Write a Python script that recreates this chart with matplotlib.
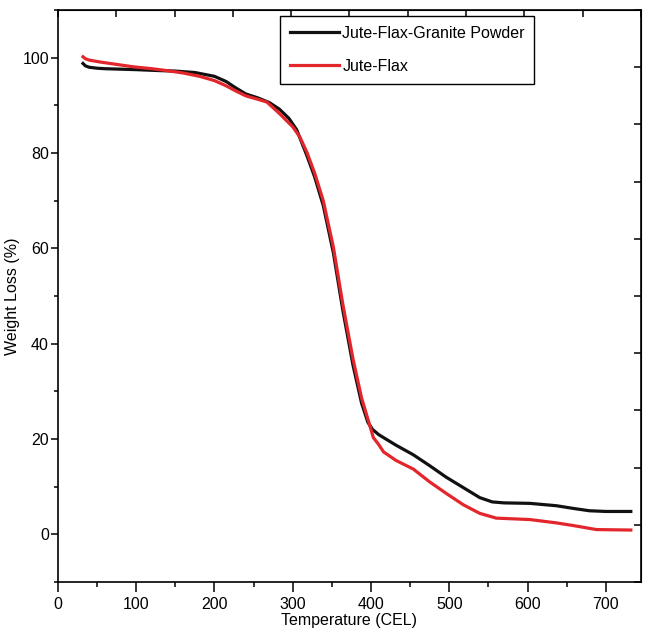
import numpy as np
import matplotlib.pyplot as plt

plt.rcParams['font.family'] = ['Liberation Sans', 'DejaVu Sans']

# TGA curves read at irregular temperatures
temp_granite = [32, 35, 40, 50, 60, 80, 100, 130, 150, 175, 200, 215, 225, 240, 255,
                270, 283, 295, 305, 318, 328, 339, 352, 364, 377, 388, 396, 402,
                410, 420, 432, 454, 475, 496, 518, 539, 555, 570, 603, 637, 660, 679,
                700, 732]
loss_granite = [98.8, 98.3, 98.0, 97.8, 97.7, 97.6, 97.5, 97.3, 97.2, 96.9, 96.1, 95.0,
                93.9, 92.4, 91.6, 90.6, 89.2, 87.3, 84.9, 79.5, 75.0, 69.0, 59.0, 47.0,
                35.5, 27.5, 23.5, 22.0, 20.9, 19.9, 18.7, 16.7, 14.4, 12.0, 9.8,
                7.7, 6.8, 6.6, 6.5, 6.0, 5.4, 4.95, 4.8, 4.8]

temp_flax = [32, 35, 40, 54, 75, 96, 120, 139, 160, 181, 200, 215, 224, 240, 255, 267,
             283, 300, 309, 318, 328, 339, 352, 364, 377, 388, 396, 403, 410, 416, 432,
             454, 475, 496, 518, 539, 560, 603, 637, 660, 688, 732]
loss_flax = [100.2, 99.8, 99.5, 99.1, 98.6, 98.1, 97.7, 97.3, 96.8, 96.1, 95.2, 94.1,
             93.3, 92.0, 91.3, 90.7, 88.3, 85.5, 83.4, 80.2, 75.8, 70.0, 60.2, 48.3,
             36.8, 28.6, 24.2, 20.3, 18.8, 17.3, 15.5, 13.7, 11.0, 8.6, 6.2, 4.4, 3.4,
             3.1, 2.4, 1.8, 1.0, 0.9]

x_max = 745
y_min, y_max = -10, 110

fig = plt.figure(figsize=(6.47, 6.30), dpi=100)
ax = fig.add_axes([0.0896, 0.0762, 0.9011, 0.9078])

ax.plot(temp_granite, loss_granite, color='#111111', lw=2.3, label='Jute-Flax-Granite Powder')
ax.plot(temp_flax, loss_flax, color='#e3262b', lw=2.3, label='Jute-Flax')

ax.set_xlim(0, x_max)
ax.set_ylim(y_min, y_max)
ax.set_xticks(range(0, 701, 100))
ax.set_xticks(range(50, 701, 100), minor=True)
ax.set_yticks(range(0, 101, 20))
ax.set_yticks(range(-10, 111, 20), minor=True)
ax.tick_params(axis='x', which='major', direction='out', length=7, width=1.1,
               labelsize=11.5, pad=4)
ax.tick_params(axis='x', which='minor', direction='out', length=3.5, width=1.1)
ax.tick_params(axis='y', which='major', direction='out', length=5, width=1.1,
               labelsize=11.5, pad=1.5)
ax.tick_params(axis='y', which='minor', direction='out', length=3, width=1.1)

for s in ax.spines.values():
    s.set_linewidth(1.2)

# mirrored ticks on top and right, evenly split, pointing inwards
top = ax.secondary_xaxis('top')
top.set_xticks(np.linspace(0, x_max, 11))
top.set_xticklabels([])
top.tick_params(direction='in', length=5, width=1.1)
right = ax.secondary_yaxis('right')
right.set_yticks(np.linspace(y_min, y_max, 11))
right.set_yticklabels([])
right.tick_params(direction='in', length=5, width=1.1)

ax.set_xlabel('Temperature (CEL)', fontsize=11.5, labelpad=0.5)
ax.set_ylabel('Weight Loss (%)', fontsize=11.5)
ax.yaxis.set_label_coords(-0.065, 0.5)

leg = ax.legend(loc='upper left', bbox_to_anchor=(0.381, 0.9895), fontsize=11.5,
                handlelength=3.1, handletextpad=0.2, labelspacing=1.15,
                borderpad=0.6, borderaxespad=0, fancybox=False, framealpha=1)
leg.get_frame().set_edgecolor('black')
leg.get_frame().set_linewidth(1.0)

fig.savefig('out.png', dpi=100)
